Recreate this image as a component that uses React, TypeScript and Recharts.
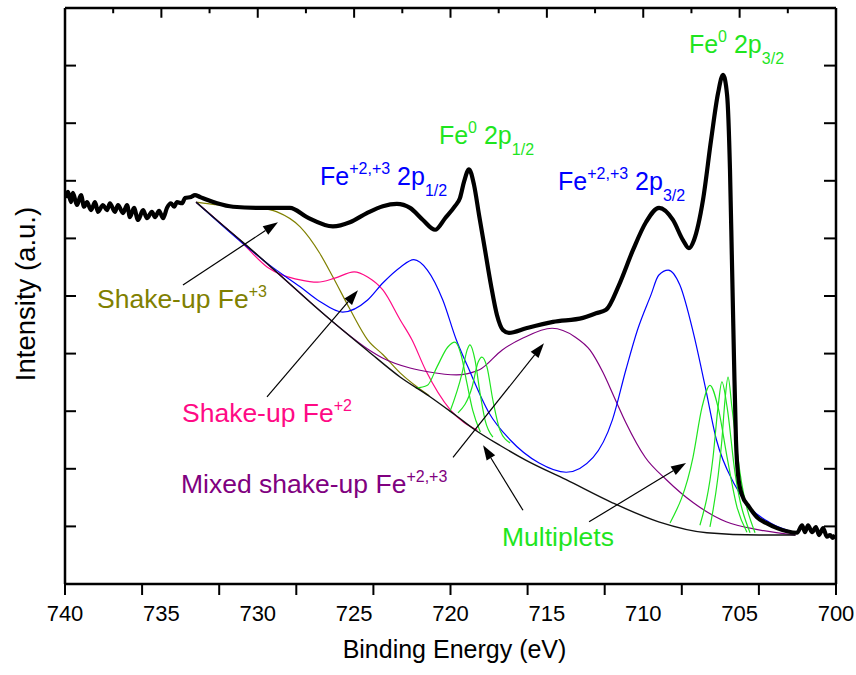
import React from "react";
import { LineChart, Line, XAxis, YAxis, ReferenceLine, ReferenceDot } from "recharts";

// [binding energy (eV), intensity (a.u.)]
type Pt = [number, number];

const measured: Pt[] = [
  [739.95, 6.7], [739.84, 6.81], [739.69, 6.63], [739.59, 6.79], [739.38, 6.58], [739.17, 6.75],
  [739.01, 6.55], [738.86, 6.63], [738.65, 6.49], [738.44, 6.63], [738.29, 6.46], [738.03, 6.58],
  [737.82, 6.49], [737.67, 6.61], [737.41, 6.46], [737.25, 6.58], [736.99, 6.44], [736.78, 6.58],
  [736.63, 6.37], [736.42, 6.53], [736.21, 6.32], [735.95, 6.49], [735.75, 6.35], [735.49, 6.46],
  [735.33, 6.37], [735.12, 6.48], [734.91, 6.35], [734.71, 6.53], [734.5, 6.61], [734.34, 6.55],
  [734.19, 6.63], [733.93, 6.61], [733.77, 6.7], [733.46, 6.72], [733.26, 6.75], [733.0, 6.72],
  [732.63, 6.67], [732.11, 6.61], [731.28, 6.55], [729.88, 6.53], [728.33, 6.53], [727.45, 6.37],
  [726.1, 6.21], [725.22, 6.28], [724.34, 6.44], [723.51, 6.56], [722.78, 6.6], [722.1, 6.53],
  [721.43, 6.32], [720.8, 6.15], [720.28, 6.35], [719.77, 6.56], [719.51, 6.7], [719.3, 6.98],
  [719.04, 7.2], [718.78, 6.93], [718.52, 6.41], [718.21, 5.8], [717.9, 5.19], [717.59, 4.67],
  [717.28, 4.41], [716.97, 4.36], [716.08, 4.44], [714.68, 4.55], [713.13, 4.62], [712.45, 4.7],
  [711.93, 4.76], [711.26, 5.19], [710.53, 5.8], [709.86, 6.28], [709.18, 6.53], [708.46, 6.32],
  [707.94, 5.97], [707.63, 5.83], [707.37, 5.97], [706.9, 6.67], [706.48, 7.71], [706.12, 8.52],
  [705.86, 8.84], [705.65, 8.49], [705.5, 7.19], [705.4, 5.63], [705.29, 3.89], [705.19, 2.5],
  [705.08, 1.89], [704.88, 1.55], [704.51, 1.34], [704.1, 1.16], [703.63, 1.06], [703.06, 0.97],
  [702.02, 0.89], [701.76, 1.02], [701.61, 0.9], [701.45, 1.02], [701.24, 0.9], [701.04, 0.99],
  [700.88, 0.85], [700.67, 0.97], [700.47, 0.82], [700.31, 0.85], [700.16, 0.8], [700.05, 0.85],
];

const shirley: Pt[] = [
  [733.2, 6.63], [732.0, 6.28], [730.8, 5.94], [729.5, 5.56], [728.2, 5.17], [727.0, 4.81],
  [725.6, 4.41], [724.3, 4.05], [722.6, 3.59], [721.1, 3.26], [719.7, 2.92], [718.7, 2.67],
  [717.4, 2.4], [716.1, 2.15], [714.0, 1.81], [711.6, 1.41], [709.2, 1.08], [706.7, 0.89],
  [704.0, 0.85], [702.1, 0.85],
];

const shakeUpFe3: Pt[] = [
  [733.2, 6.63], [732.0, 6.58], [730.9, 6.55], [729.9, 6.53], [729.0, 6.46], [727.8, 6.2],
  [726.8, 5.75], [726.1, 5.33], [725.2, 4.76], [724.3, 4.24], [723.5, 3.98], [722.6, 3.66],
  [721.1, 3.27],
];

const shakeUpFe2: Pt[] = [
  [733.2, 6.63], [730.8, 5.92], [729.5, 5.5], [727.8, 5.28], [726.9, 5.24], [726.0, 5.31],
  [725.0, 5.42], [724.3, 5.33], [723.5, 5.1], [722.6, 4.58], [722.0, 4.24], [721.3, 3.72],
  [720.0, 3.02], [718.6, 2.67],
];

const mixedShakeUp: Pt[] = [
  [733.2, 6.63], [730.8, 5.94], [728.2, 5.17], [725.6, 4.41], [724.3, 4.08], [723.5, 3.92],
  [722.1, 3.75], [721.1, 3.68], [719.7, 3.63], [718.5, 3.72], [717.33, 4.06], [716.24, 4.27],
  [714.73, 4.44], [713.54, 4.29], [712.76, 4.06], [712.1, 3.68], [711.5, 3.24], [710.9, 2.8],
  [709.9, 2.2], [708.8, 1.81], [707.4, 1.41], [705.7, 1.08], [704.0, 0.94], [702.1, 0.85],
];

const fe23Doublet: Pt[] = [
  [733.2, 6.63], [730.8, 5.92], [729.4, 5.54], [727.8, 5.16], [726.8, 4.91], [725.6, 4.72],
  [724.3, 4.93], [723.5, 5.23], [722.6, 5.5], [721.9, 5.63], [721.2, 5.45], [720.4, 4.93],
  [719.7, 4.24], [719.1, 3.77], [718.0, 2.97], [716.9, 2.5], [715.4, 2.1], [714.0, 1.94],
  [712.6, 2.2], [711.6, 2.85], [710.9, 3.72], [710.3, 4.41], [709.6, 5.02], [709.2, 5.36],
  [708.7, 5.45], [708.1, 5.19], [707.4, 4.36], [706.8, 3.45], [706.2, 2.5], [705.3, 1.75],
  [704.5, 1.34], [703.4, 1.06], [702.1, 0.89],
];

const multipletA: Pt[] = [
  [721.8, 3.4], [721.2, 3.45], [720.7, 3.77], [720.15, 4.11], [719.77, 4.2], [719.45, 3.98],
  [719.15, 3.49], [718.85, 3.02], [718.45, 2.64],
];
const multipletB: Pt[] = [
  [720.03, 2.99], [719.4, 3.66], [719.14, 4.06], [718.99, 4.15], [718.73, 3.89], [718.47, 3.32],
  [718.21, 2.85], [717.8, 2.55],
];
const multipletC: Pt[] = [
  [719.61, 2.97], [718.88, 3.42], [718.57, 3.85], [718.37, 3.94], [718.11, 3.77], [717.8, 3.19],
  [717.43, 2.67], [716.91, 2.45],
];
const multipletD: Pt[] = [
  [708.61, 1.06], [707.42, 2.2], [706.95, 3.07], [706.54, 3.45], [706.12, 3.07], [705.65, 2.2],
  [705.14, 1.34], [704.62, 0.9],
];
const multipletE: Pt[] = [
  [707.06, 1.02], [706.38, 2.2], [706.12, 3.07], [705.92, 3.51], [705.65, 3.07], [705.24, 1.93],
  [704.46, 0.89],
];
const multipletF: Pt[] = [
  [706.54, 0.99], [705.92, 2.5], [705.76, 3.19], [705.6, 3.59], [705.4, 3.07], [704.98, 1.93],
  [704.2, 0.89],
];

const xTickLabels = [740, 735, 730, 725, 720, 715, 710, 705, 700];
const xTickMarks = [740, 736, 732, 728, 724, 720, 716, 712, 708, 704, 700];
const topTicks = [740, 737.5, 735, 732.5, 730, 727.5, 725, 722.5, 720, 717.5, 715, 712.5, 710, 707.5, 705, 702.5, 700];
const yTicks = [0, 1, 2, 3, 4, 5, 6, 7, 8, 9, 10];

const GREEN = "#1fe51f";
const BLUE = "#0000ff";
const PINK = "#ff0a85";
const PURPLE = "#800080";
const OLIVE = "#808000";
const FONT = "'Liberation Sans', Arial, Helvetica, sans-serif";

// annotation arrows: tail -> head
const arrows: { from: Pt; to: Pt }[] = [
  { from: [733.88, 5.19], to: [728.95, 6.28] },
  { from: [729.52, 3.25], to: [724.8, 5.1] },
  { from: [719.87, 2.2], to: [715.15, 4.18] },
  { from: [716.24, 1.28], to: [718.31, 2.41] },
  { from: [712.81, 1.08], to: [707.78, 2.1] },
];

type Part = { t: string; s?: "sup" | "sub" };
const labels: { at: Pt; color: string; size: number; parts: Part[] }[] = [
  { at: [707.63, 9.22], color: GREEN, size: 25, parts: [{ t: "Fe" }, { t: "0", s: "sup" }, { t: " 2p" }, { t: "3/2", s: "sub" }] },
  { at: [720.6, 7.64], color: GREEN, size: 25, parts: [{ t: "Fe" }, { t: "0", s: "sup" }, { t: " 2p" }, { t: "1/2", s: "sub" }] },
  { at: [726.77, 6.93], color: BLUE, size: 25, parts: [{ t: "Fe" }, { t: "+2,+3", s: "sup" }, { t: " 2p" }, { t: "1/2", s: "sub" }] },
  { at: [714.42, 6.84], color: BLUE, size: 25, parts: [{ t: "Fe" }, { t: "+2,+3", s: "sup" }, { t: " 2p" }, { t: "3/2", s: "sub" }] },
  { at: [738.34, 4.79], color: OLIVE, size: 26.5, parts: [{ t: "Shake-up Fe" }, { t: "+3", s: "sup" }] },
  { at: [733.93, 2.81], color: PINK, size: 26.5, parts: [{ t: "Shake-up Fe" }, { t: "+2", s: "sup" }] },
  { at: [733.98, 1.58], color: PURPLE, size: 26.5, parts: [{ t: "Mixed shake-up Fe" }, { t: "+2,+3", s: "sup" }] },
  { at: [717.33, 0.66], color: GREEN, size: 26.5, parts: [{ t: "Multiplets" }] },
];

const rows = (pts: Pt[]) => pts.map(([be, v]) => ({ be, v }));

const components: { pts: Pt[]; color: string }[] = [
  { pts: shakeUpFe3, color: OLIVE },
  { pts: shakeUpFe2, color: PINK },
  { pts: mixedShakeUp, color: PURPLE },
  { pts: fe23Doublet, color: BLUE },
  { pts: multipletA, color: GREEN },
  { pts: multipletB, color: GREEN },
  { pts: multipletC, color: GREEN },
  { pts: multipletD, color: GREEN },
  { pts: multipletE, color: GREEN },
  { pts: multipletF, color: GREEN },
];

const BottomTick = (props: any) => {
  const { x, y, payload } = props;
  return (
    <text x={x} y={y + 37} textAnchor="middle" fontSize={22} fontFamily={FONT} fill="#000">
      {payload.value}
    </text>
  );
};

// vertical frame ticks, drawn as short segments of the data scale
const VTick = (props: any) => {
  const { x1, y1, x2, y2 } = props;
  return <path d={`M${x1},${y1}L${x2},${y2}`} stroke="#000" strokeWidth={2} fill="none" />;
};

const LeftTick = (props: any) => <line x1={props.x} x2={props.x + 11} y1={props.y} y2={props.y} stroke="#000" strokeWidth={2} />;
const RightTick = (props: any) => <line x1={props.x} x2={props.x - 12} y1={props.y} y2={props.y} stroke="#000" strokeWidth={2} />;

const Arrow = (props: any) => {
  const { x1, y1, x2, y2 } = props;
  const dx = x2 - x1;
  const dy = y2 - y1;
  const len = Math.sqrt(dx * dx + dy * dy);
  const ux = dx / len;
  const uy = dy / len;
  const hl = 15;
  const hw = 5;
  const bx = x2 - ux * hl;
  const by = y2 - uy * hl;
  return (
    <g>
      <line x1={x1} y1={y1} x2={bx} y2={by} stroke="#000" strokeWidth={1.2} />
      <polygon points={`${x2},${y2} ${bx - uy * hw},${by + ux * hw} ${bx + uy * hw},${by - ux * hw}`} fill="#000" />
    </g>
  );
};

const richText = (color: string, size: number, parts: Part[]) => (props: any) => {
  const small = 16;
  let shift = 0;
  return (
    <text x={props.cx} y={props.cy} fill={color} fontSize={size} fontFamily={FONT} style={{ whiteSpace: "pre" }}>
      {parts.map((p, i) => {
        const target = p.s === "sup" ? -11 : p.s === "sub" ? 11 : 0;
        const d = target - shift;
        shift = target;
        return (
          <tspan key={i} dy={d} fontSize={p.s ? small : size}>
            {p.t}
          </tspan>
        );
      })}
    </text>
  );
};

export default function App() {
  return (
    <div style={{ position: "absolute", left: 0, top: 0, width: 856, height: 675, background: "#fff" }}>
      <LineChart width={856} height={675} margin={{ top: 7, right: 19, bottom: 90, left: 64 }}>
        <XAxis
          xAxisId="b"
          type="number"
          dataKey="be"
          domain={[700, 740]}
          allowDataOverflow
          reversed
          ticks={xTickLabels}
          interval={0}
          height={1}
          tickSize={0}
          tickMargin={0}
          tickLine={false}
          tick={<BottomTick />}
          axisLine={{ stroke: "#000", strokeWidth: 2.5 }}
          label={{
            content: (p: any) => (
              <text x={p.viewBox.x + p.viewBox.width / 2 + 4} y={p.viewBox.y + 74} textAnchor="middle" fontSize={25} fontFamily={FONT} fill="#000">
                Binding Energy (eV)
              </text>
            ),
          }}
        />
        <XAxis
          xAxisId="t"
          orientation="top"
          type="number"
          dataKey="be"
          domain={[700, 740]}
          allowDataOverflow
          reversed
          height={1}
          tick={false}
          tickLine={false}
          axisLine={{ stroke: "#000", strokeWidth: 2.5 }}
        />
        <YAxis
          yAxisId="l"
          type="number"
          domain={[0, 10]}
          allowDataOverflow
          ticks={yTicks}
          interval={0}
          width={1}
          tickSize={0}
          tickMargin={0}
          tickLine={false}
          tick={<LeftTick />}
          axisLine={{ stroke: "#000", strokeWidth: 2.5 }}
          label={{
            content: (p: any) => (
              <text
                x={35}
                y={p.viewBox.y + p.viewBox.height / 2 - 2}
                transform={`rotate(-90, 35, ${p.viewBox.y + p.viewBox.height / 2 - 2})`}
                textAnchor="middle"
                fontSize={27.5}
                fontFamily={FONT}
                fill="#000"
              >
                Intensity (a.u.)
              </text>
            ),
          }}
        />
        <YAxis
          yAxisId="r"
          orientation="right"
          type="number"
          domain={[0, 10]}
          allowDataOverflow
          ticks={yTicks}
          interval={0}
          width={1}
          tickSize={0}
          tickMargin={0}
          tickLine={false}
          tick={<RightTick />}
          axisLine={{ stroke: "#000", strokeWidth: 2.5 }}
        />

        {components.map((c, i) => (
          <Line
            key={i}
            xAxisId="b"
            yAxisId="l"
            data={rows(c.pts)}
            dataKey="v"
            type="monotone"
            stroke={c.color}
            strokeWidth={1.2}
            dot={false}
            isAnimationActive={false}
          />
        ))}
        <Line xAxisId="b" yAxisId="l" data={rows(shirley)} dataKey="v" type="monotone" stroke="#111" strokeWidth={1.4} dot={false} isAnimationActive={false} />
        <Line
          xAxisId="b"
          yAxisId="l"
          data={rows(measured)}
          dataKey="v"
          type="monotone"
          stroke="#000"
          strokeWidth={4.2}
          strokeLinejoin="round"
          dot={false}
          isAnimationActive={false}
        />

        {xTickMarks.map((v) => (
          <ReferenceLine
            key={`m${v}`}
            xAxisId="b"
            yAxisId="l"
            ifOverflow="extendDomain"
            segment={[
              { x: v + 0.0001, y: 0 },
              { x: v, y: -0.19 },
            ]}
            shape={VTick}
          />
        ))}
        {topTicks.map((v) => (
          <ReferenceLine
            key={`t${v}`}
            xAxisId="b"
            yAxisId="l"
            segment={[
              { x: v + 0.0001, y: 10 },
              { x: v, y: v % 5 === 0 ? 9.83 : 9.91 },
            ]}
            shape={VTick}
          />
        ))}

        {arrows.map((a, i) => (
          <ReferenceLine
            key={`a${i}`}
            xAxisId="b"
            yAxisId="l"
            segment={[
              { x: a.from[0], y: a.from[1] },
              { x: a.to[0], y: a.to[1] },
            ]}
            shape={Arrow}
          />
        ))}
        {labels.map((l, i) => (
          <ReferenceDot key={`l${i}`} xAxisId="b" yAxisId="l" x={l.at[0]} y={l.at[1]} r={1} shape={richText(l.color, l.size, l.parts)} />
        ))}
      </LineChart>
    </div>
  );
}
